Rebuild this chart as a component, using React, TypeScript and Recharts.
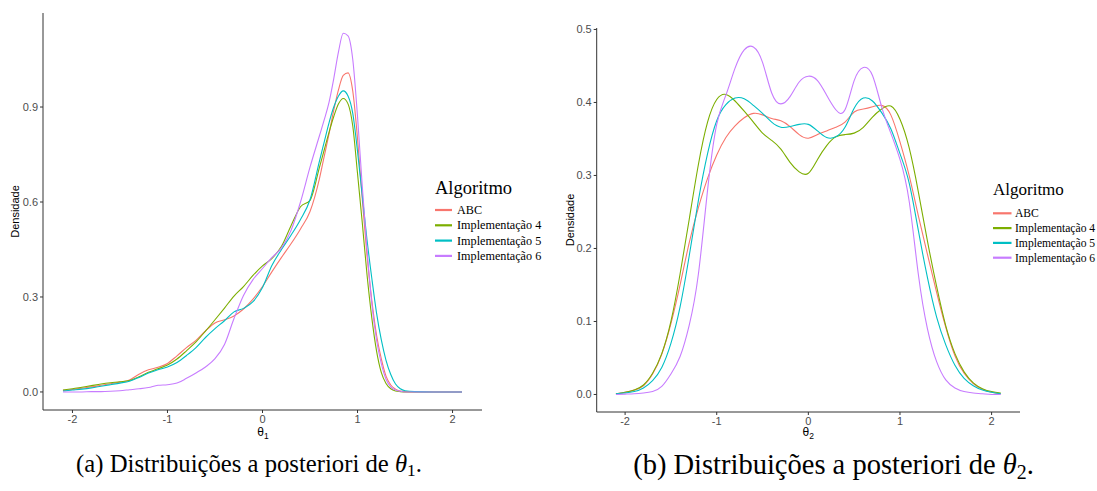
import React from 'react';
import { LineChart, Line, XAxis, YAxis, Label } from 'recharts';

const seriesNames = ['ABC', 'Implementação 4', 'Implementação 5', 'Implementação 6'];
const seriesColors = ['#F8766D', '#7CAE00', '#00BFC4', '#C77CFF'];

// theta 1 densities
const theta1X = [
  -2.1, -2.0, -1.9, -1.8, -1.7, -1.6, -1.5, -1.4, -1.3, -1.2, -1.1, -1.0, -0.9, -0.8, -0.7,
  -0.6, -0.5, -0.4, -0.3, -0.2, -0.1, 0, 0.1, 0.2, 0.3, 0.4, 0.5, 0.6, 0.65, 0.7, 0.75, 0.8,
  0.85, 0.9, 0.95, 1.0, 1.05, 1.1, 1.15, 1.2, 1.25, 1.3, 1.35, 1.4, 1.45, 1.5, 1.6, 1.8, 2.1,
];
const theta1Abc = [
  0.005, 0.008, 0.012, 0.016, 0.021, 0.026, 0.031, 0.038, 0.056, 0.07, 0.078, 0.09, 0.114, 0.14,
  0.163, 0.193, 0.218, 0.228, 0.24, 0.262, 0.293, 0.333, 0.38, 0.425, 0.468, 0.515, 0.57, 0.675,
  0.745, 0.815, 0.89, 0.955, 1.0, 1.008, 0.95, 0.8, 0.61, 0.43, 0.29, 0.18, 0.105, 0.05, 0.022,
  0.009, 0.003, 0.001, 0, 0, 0,
];
const theta1Impl4 = [
  0.006, 0.01, 0.015, 0.02, 0.025, 0.029, 0.032, 0.036, 0.048, 0.062, 0.073, 0.085, 0.104, 0.13,
  0.158, 0.192, 0.228, 0.265, 0.303, 0.333, 0.368, 0.398, 0.422, 0.46, 0.525, 0.585, 0.605, 0.71,
  0.765, 0.82, 0.87, 0.91, 0.927, 0.91, 0.84, 0.69, 0.535, 0.37, 0.235, 0.13, 0.062, 0.027, 0.01,
  0.003, 0.001, 0, 0, 0, 0,
];
const theta1Impl5 = [
  0.003, 0.006, 0.009, 0.013, 0.018, 0.023, 0.028, 0.034, 0.046, 0.06, 0.07, 0.079, 0.093, 0.115,
  0.14, 0.172, 0.2, 0.225, 0.253, 0.264, 0.285, 0.33, 0.4, 0.45, 0.495, 0.545, 0.607, 0.73, 0.79,
  0.85, 0.9, 0.935, 0.951, 0.935, 0.88, 0.76, 0.62, 0.48, 0.36, 0.25, 0.165, 0.1, 0.055, 0.025,
  0.01, 0.004, 0.001, 0, 0,
];
const theta1Impl6 = [
  0, 0, 0, 0.001, 0.001, 0.002, 0.004, 0.007, 0.01, 0.014, 0.021, 0.023, 0.028, 0.043, 0.06,
  0.079, 0.105, 0.15, 0.232, 0.305, 0.355, 0.39, 0.425, 0.455, 0.51, 0.6, 0.71, 0.81, 0.86,
  0.915, 0.99, 1.075, 1.133, 1.125, 1.05, 0.87, 0.65, 0.45, 0.28, 0.165, 0.09, 0.04, 0.016, 0.006,
  0.002, 0, 0, 0, 0,
];

// theta 2 densities
const theta2X = [
  -2.1, -2.0, -1.9, -1.8, -1.7, -1.6, -1.5, -1.4, -1.3, -1.2, -1.1, -1.0, -0.9, -0.8, -0.7, -0.6,
  -0.5, -0.4, -0.3, -0.2, -0.1, 0, 0.1, 0.2, 0.3, 0.4, 0.5, 0.6, 0.7, 0.8, 0.9, 1.0, 1.1, 1.2, 1.3,
  1.4, 1.5, 1.6, 1.7, 1.8, 1.9, 2.0, 2.1,
];
const theta2Abc = [
  0.001, 0.003, 0.006, 0.012, 0.028, 0.055, 0.097, 0.15, 0.208, 0.256, 0.296, 0.328, 0.352, 0.368,
  0.379, 0.385, 0.383, 0.378, 0.375, 0.367, 0.356, 0.351, 0.356, 0.361, 0.366, 0.373, 0.387, 0.391,
  0.394, 0.396, 0.383, 0.346, 0.3, 0.245, 0.192, 0.14, 0.092, 0.053, 0.029, 0.015, 0.007, 0.003,
  0.001,
];
const theta2Impl4 = [
  0.001, 0.003, 0.006, 0.013, 0.029, 0.056, 0.1, 0.165, 0.24, 0.315, 0.373, 0.404, 0.411, 0.402,
  0.388, 0.373, 0.358, 0.348, 0.336, 0.318, 0.305, 0.303, 0.322, 0.341, 0.353, 0.356, 0.358, 0.366,
  0.38, 0.391, 0.395, 0.377, 0.338, 0.278, 0.21, 0.148, 0.094, 0.056, 0.031, 0.016, 0.008, 0.004,
  0.002,
];
const theta2Impl5 = [
  0.001, 0.002, 0.004, 0.009, 0.019, 0.037, 0.07, 0.12, 0.19, 0.266, 0.33, 0.375, 0.397, 0.406,
  0.405, 0.396, 0.385, 0.373, 0.366, 0.367, 0.37, 0.37, 0.361, 0.352, 0.353, 0.366, 0.392, 0.406,
  0.402, 0.386, 0.364, 0.33, 0.29, 0.225, 0.16, 0.106, 0.068, 0.04, 0.022, 0.012, 0.006, 0.003,
  0.001,
];
const theta2Impl6 = [
  0, 0.0005, 0.001, 0.002, 0.004, 0.011, 0.028, 0.052, 0.095, 0.165, 0.28, 0.37, 0.41, 0.447,
  0.472, 0.476, 0.455, 0.413, 0.398, 0.408, 0.428, 0.436, 0.43, 0.41, 0.39, 0.39, 0.43, 0.448,
  0.437, 0.394, 0.358, 0.322, 0.265, 0.165, 0.09, 0.045, 0.02, 0.009, 0.004, 0.002, 0.001, 0, 0,
];

const xTicks = [-2, -1, 0, 1, 2];
const theta1YTicks = [0, 0.3, 0.6, 0.9];
const theta2YTicks = [0, 0.1, 0.2, 0.3, 0.4, 0.5];

const rows1 = theta1X.map((x, i) => ({
  x,
  s0: theta1Abc[i],
  s1: theta1Impl4[i],
  s2: theta1Impl5[i],
  s3: theta1Impl6[i],
}));
const rows2 = theta2X.map((x, i) => ({
  x,
  s0: theta2Abc[i],
  s1: theta2Impl4[i],
  s2: theta2Impl5[i],
  s3: theta2Impl6[i],
}));

const sans = '"Liberation Sans", Arial, sans-serif';
const serif = '"Liberation Serif", "Times New Roman", serif';
const tickStyle = { fill: '#4d4d4d', fontSize: 11, fontFamily: sans };
const axisStroke = { stroke: '#333', strokeWidth: 1 };

const DensityPanel = ({ rows, yDomain, yTicks, curve, sub, labelX, labelY, xLabelY, ...size }: any) => (
  <LineChart width={size.width} height={size.height} data={rows} margin={size.margin}>
    <XAxis
      type="number"
      dataKey="x"
      domain={[-2.31, 2.31]}
      ticks={xTicks}
      allowDataOverflow
      tick={tickStyle}
      tickSize={3}
      tickMargin={2}
      tickLine={axisStroke}
      axisLine={axisStroke}
      height={size.xHeight}
    >
      <Label
        content={() => (
          <text x={labelX} y={xLabelY} textAnchor="middle" fontFamily={sans} fontSize={12} fill="#000">
            θ<tspan fontSize={8.5} dy={3}>{sub}</tspan>
          </text>
        )}
      />
    </XAxis>
    <YAxis
      type="number"
      domain={yDomain}
      ticks={yTicks}
      allowDataOverflow
      tickFormatter={(v: number) => v.toFixed(1)}
      tick={tickStyle}
      tickSize={3}
      tickMargin={2}
      tickLine={axisStroke}
      axisLine={axisStroke}
      width={size.yWidth}
    >
      <Label
        content={() => (
          <text
            x={labelY[0]}
            y={labelY[1]}
            transform={`rotate(-90 ${labelY[0]} ${labelY[1]})`}
            textAnchor="middle"
            dominantBaseline="central"
            fontFamily={sans}
            fontSize={11}
            fill="#000"
          >
            Densidade
          </text>
        )}
      />
    </YAxis>
    {seriesNames.map((name, i) => (
      <Line
        key={name}
        name={name}
        type={curve}
        dataKey={`s${i}`}
        stroke={seriesColors[i]}
        strokeWidth={1.1}
        dot={false}
        activeDot={false}
        isAnimationActive={false}
      />
    ))}
  </LineChart>
);

const LegendBlock = ({ x, titleY, titleSize, firstY, step, keyLen, textGap, itemSize }: any) => (
  <g fontFamily={serif}>
    <text x={x} y={titleY} fontSize={titleSize} fill="#000">
      Algoritmo
    </text>
    {seriesNames.map((name, i) => {
      const y = firstY + step * i;
      return (
        <g key={name}>
          <line x1={x} x2={x + keyLen} y1={y} y2={y} stroke={seriesColors[i]} strokeWidth={2.2} />
          <text x={x + keyLen + textGap} y={y + 4} fontSize={itemSize} fill="#000">
            {name}
          </text>
        </g>
      );
    })}
  </g>
);

const Caption = ({ cx, y, size, letter, sub }: any) => (
  <text x={cx} y={y} textAnchor="middle" fontFamily={serif} fontSize={size} fill="#000">
    ({letter}) Distribuições a posteriori de <tspan fontStyle="italic">θ</tspan>
    <tspan fontSize={size * 0.7} dy={size * 0.17}>{sub}</tspan>
    <tspan dy={-size * 0.17}>.</tspan>
  </text>
);

export default function App() {
  return (
    <div style={{ position: 'absolute', left: 0, top: 0, width: 1097, height: 491, background: '#fff' }}>
      <div style={{ position: 'absolute', left: 0, top: 0 }}>
        <DensityPanel
          rows={rows1}
          yDomain={[-0.057, 1.197]}
          yTicks={theta1YTicks}
          curve="monotone"
          sub="1"
          labelX={263}
          xLabelY={436}
          labelY={[15, 211.5]}
          width={500}
          height={440}
          margin={{ top: 13, right: 18, bottom: 0, left: 0 }}
          yWidth={43}
          xHeight={30}
        />
      </div>
      <div style={{ position: 'absolute', left: 550, top: 0 }}>
        <DensityPanel
          rows={rows2}
          yDomain={[-0.024, 0.502]}
          yTicks={theta2YTicks}
          curve="natural"
          sub="2"
          labelX={258.3}
          xLabelY={436}
          labelY={[20, 220]}
          width={480}
          height={440}
          margin={{ top: 28, right: 10, bottom: 0, left: 0 }}
          yWidth={46.7}
          xHeight={28}
        />
      </div>
      <svg
        width={1097}
        height={491}
        style={{ position: 'absolute', left: 0, top: 0, pointerEvents: 'none' }}
      >
        <LegendBlock x={435} titleY={194} titleSize={18.5} firstY={210} step={15.3} keyLen={17} textGap={5} itemSize={12.2} />
        <LegendBlock x={993} titleY={195} titleSize={17} firstY={213.3} step={14.8} keyLen={18.5} textGap={3.5} itemSize={11.6} />
        <Caption cx={249} y={472} size={24.7} letter="a" sub="1" />
        <Caption cx={833.5} y={474} size={28.5} letter="b" sub="2" />
      </svg>
    </div>
  );
}
